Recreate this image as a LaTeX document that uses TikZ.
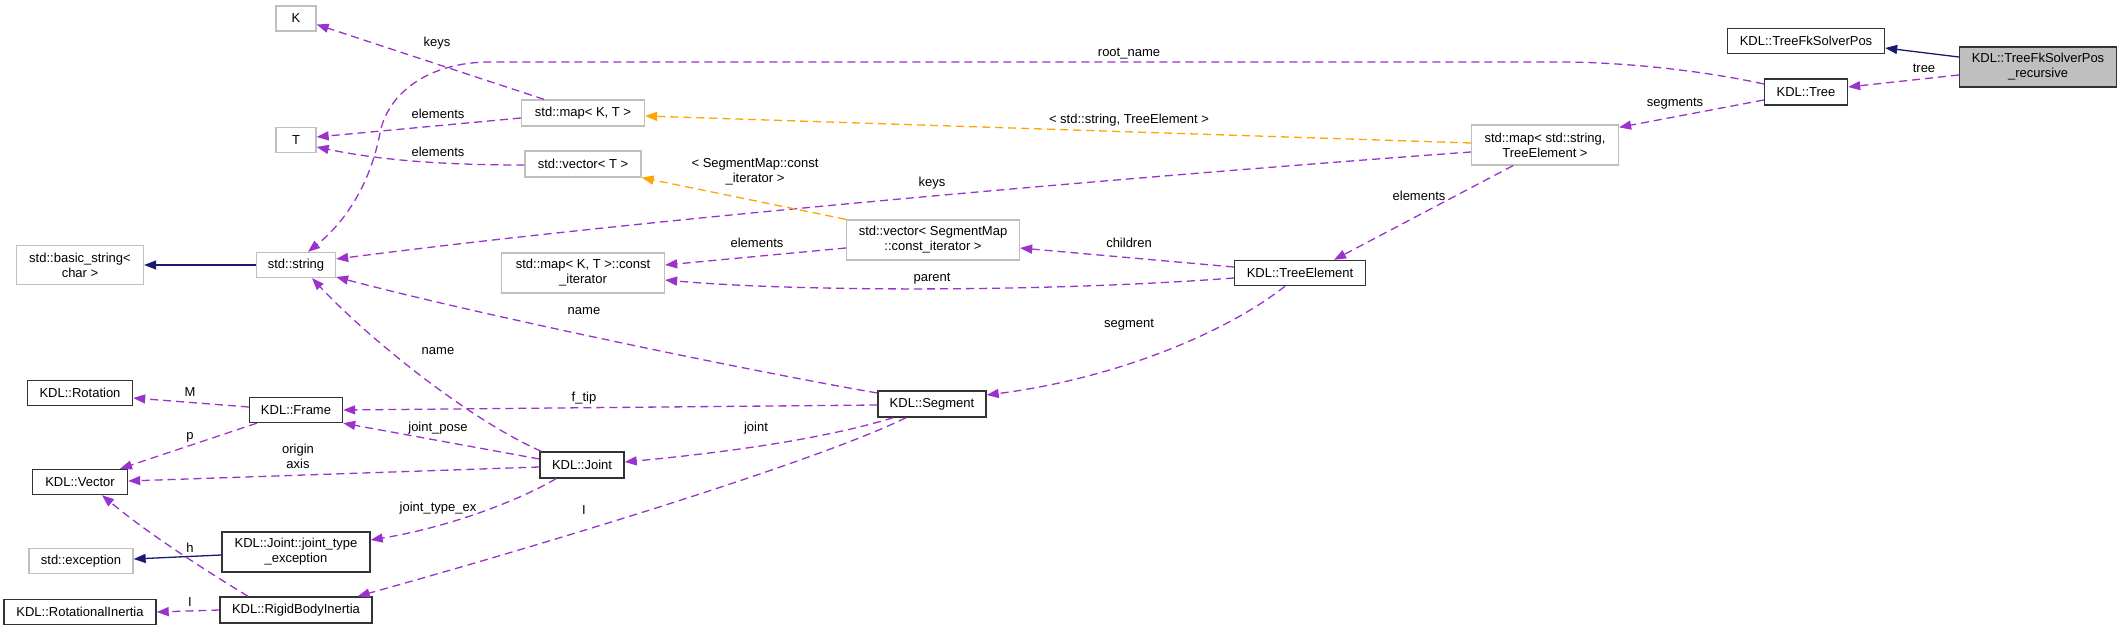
\documentclass[tikz,border=0pt]{standalone}
\usepackage{fontspec}
\setmainfont{Liberation Sans}
\usetikzlibrary{arrows.meta}
\definecolor{edgepurple}{HTML}{9A32CD}
\definecolor{edgeorange}{HTML}{FFA500}
\definecolor{edgenavy}{HTML}{191970}
\definecolor{boxgray}{HTML}{BFBFBF}
\definecolor{boxline}{HTML}{333333}
\begin{document}
\begin{tikzpicture}[x=1pt,y=-1pt,
  every node/.style={font=\fontsize{13}{15}\selectfont, inner sep=0pt, align=center},
  cls/.style={draw=boxline, line width=1.4pt, fill=white},
  ext/.style={draw=boxgray, line width=1.3pt, fill=white},
  hl/.style={draw=boxline, line width=1.4pt, fill=boxgray},
  use/.style={draw=edgepurple, line width=1.3pt, dash pattern=on 8pt off 5pt,
    -{Triangle[length=12pt,width=9pt,fill=edgepurple]}},
  tmpl/.style={draw=edgeorange, line width=1.3pt, dash pattern=on 8pt off 5pt,
    -{Triangle[length=12pt,width=9pt,fill=edgeorange]}},
  inh/.style={draw=edgenavy, line width=1.3pt,
    -{Triangle[length=12pt,width=9pt,fill=edgenavy]}},
  lbl/.style={fill=none}
]
\fill[white] (0,0) rectangle (2123,631);
\useasboundingbox (0,0) rectangle (2123,631);

% nodes
\node[ext, minimum width=40pt, minimum height=25pt] (K) at (296,18.5) {K};
\node[ext, minimum width=40pt, minimum height=25pt] (T) at (296,140) {T};
\node[ext, minimum width=123pt, minimum height=26pt] (mapKT) at (583,113) {std::map< K, T >};
\node[ext, minimum width=116pt, minimum height=26pt] (vecT) at (583,164) {std::vector< T >};
\node[ext, minimum width=127pt, minimum height=39pt] (bstr) at (80,265) {std::basic\_string<\\char >};
\node[ext, minimum width=79pt, minimum height=25pt] (str) at (296,265) {std::string};
\node[ext, minimum width=163pt, minimum height=40pt] (mapCI) at (583,273) {std::map< K, T >::const\\\_iterator};
\node[ext, minimum width=173pt, minimum height=40pt] (vecSM) at (933,240) {std::vector< SegmentMap\\::const\_iterator >};
\node[cls, minimum width=131pt, minimum height=25pt] (TE) at (1300,273) {KDL::TreeElement};
\node[ext, minimum width=147pt, minimum height=40pt] (mapSTE) at (1545,145) {std::map< std::string,\\TreeElement >};
\node[cls, minimum width=83pt, minimum height=26pt] (tree) at (1806,92) {KDL::Tree};
\node[cls, minimum width=157pt, minimum height=25pt] (fk) at (1806,41) {KDL::TreeFkSolverPos};
\node[hl, minimum width=157pt, minimum height=40pt] (rec) at (2038,67) {KDL::TreeFkSolverPos\\\_recursive};
\node[cls, minimum width=108pt, minimum height=26pt] (seg) at (932,404) {KDL::Segment};
\node[cls, minimum width=105pt, minimum height=25pt] (rot) at (80,393) {KDL::Rotation};
\node[cls, minimum width=93pt, minimum height=25pt] (frame) at (296,410) {KDL::Frame};
\node[cls, minimum width=95pt, minimum height=25pt] (vec) at (80,482) {KDL::Vector};
\node[cls, minimum width=84pt, minimum height=26pt] (joint) at (582,465) {KDL::Joint};
\node[ext, minimum width=104pt, minimum height=25pt] (exc) at (81,561) {std::exception};
\node[cls, minimum width=148pt, minimum height=40pt] (jte) at (296,552) {KDL::Joint::joint\_type\\\_exception};
\node[cls, minimum width=152pt, minimum height=25pt] (rotI) at (80,612) {KDL::RotationalInertia};
\node[cls, minimum width=152pt, minimum height=26pt] (rbi) at (296,610) {KDL::RigidBodyInertia};

% edges
\draw[inh] ([yshift=10pt]rec.west) -- ([yshift=-7pt]fk.east);
\draw[use] ([yshift=-8pt]rec.west) -- ([yshift=5pt]tree.east);
\draw[use] ([yshift=8pt]tree.west) .. controls (1700,70) and (1620,62) .. (1560,62) -- (490,62)
  .. controls (430,62) and (388,92) .. (380,133) .. controls (370,185) and (345,222) .. ([xshift=12pt]str.north);
\draw[use] ([yshift=-8pt]tree.west) -- ([yshift=-3pt]mapSTE.north east);
\draw[tmpl] ([yshift=2pt]mapSTE.west) -- ([yshift=-3pt]mapKT.east);
\draw[use] ([yshift=-7pt]mapSTE.west) .. controls (1250,168) and (700,212) .. ([yshift=6pt]str.east);
\draw[use] ([xshift=-32pt]mapSTE.south) -- ([xshift=34pt]TE.north);
\draw[use] ([xshift=-39pt]mapKT.north) -- ([yshift=-6pt]K.east);
\draw[use] ([yshift=-5pt]mapKT.west) -- ([yshift=3pt]T.east);
\draw[use] ([yshift=-1pt]vecT.west) .. controls (440,165) and (380,160) .. ([yshift=-7pt]T.east);
\draw[tmpl] (vecSM.north west) -- (vecT.south east);
\draw[use] ([yshift=-8pt]vecSM.west) -- ([yshift=8pt]mapCI.east);
\draw[use] ([yshift=6pt]TE.west) -- ([yshift=-8pt]vecSM.east);
\draw[use] ([yshift=-5pt]TE.west) .. controls (1050,292) and (800,292) .. ([yshift=-7pt]mapCI.east);
\draw[use] ([xshift=-15pt]TE.south) .. controls (1230,330) and (1120,378) .. ([yshift=9pt]seg.east);
\draw[use] ([yshift=11pt]seg.west) .. controls (750,371) and (480,315) .. ([yshift=-12pt]str.east);
\draw[use] ([yshift=-1pt]seg.west) -- (frame.east);
\draw[use] ([xshift=16pt]seg.south west) .. controls (820,440) and (720,453) .. ([yshift=3pt]joint.east);
\draw[use] ([xshift=-26pt]seg.south) .. controls (820,460) and (560,540) .. ([xshift=-15pt]rbi.north east);
\draw[use] ([xshift=2pt]joint.north west) .. controls (470,420) and (370,340) .. ([xshift=16pt]str.south);
\draw[use] ([yshift=6pt]joint.west) -- (frame.south east);
\draw[use] ([yshift=-2pt]joint.west) -- ([yshift=1pt]vec.east);
\draw[use] ([xshift=-26pt]joint.south) .. controls (520,500) and (450,527) .. ([yshift=12pt]jte.east);
\draw[use] ([yshift=3pt]frame.west) -- ([yshift=-5pt]rot.east);
\draw[use] ([xshift=8pt]frame.south west) -- ([xshift=40pt]vec.north);
\draw[inh] (str.west) -- (bstr.east);
\draw[inh] ([yshift=-3pt]jte.west) -- ([yshift=2pt]exc.east);
\draw[use] ([xshift=-48pt]rbi.north) .. controls (205,570) and (150,535) .. ([xshift=22pt]vec.south);
\draw[use] (rbi.west) -- (rotI.east);

% labels
\node[lbl] (ltree) at (1924,68) {tree};
\node[lbl] (lroot) at (1129,54) {root\_name};
\node[lbl] (lsegs) at (1675,104) {segments};
\node[lbl] (lste) at (1129,120) {< std::string, TreeElement >};
\node[lbl] (lkeys2) at (932,183) {keys};
\node[lbl] (lelem3) at (1419,196) {elements};
\node[lbl] (lkeys1) at (437,43) {keys};
\node[lbl] (lelem1) at (438,114) {elements};
\node[lbl] (lelem2) at (438,152) {elements};
\node[lbl] (ltmpl2) at (755,172) {< SegmentMap::const\\\_iterator >};
\node[lbl] (lelem4) at (757,243) {elements};
\node[lbl] (lchild) at (1129,243) {children};
\node[lbl] (lparent) at (932,279) {parent};
\node[lbl] (lsegment) at (1129,325) {segment};
\node[lbl] (lname1) at (584,311) {name};
\node[lbl] (lftip) at (584,398) {f\_tip};
\node[lbl] (ljoint) at (756,428) {joint};
\node[lbl] (lIa) at (584,510) {I};
\node[lbl] (lname2) at (438,351) {name};
\node[lbl] (ljp) at (438,428) {joint\_pose};
\node[lbl] (loa) at (298,456) {origin\\axis};
\node[lbl] (ljte) at (438,508) {joint\_type\_ex};
\node[lbl] (lM) at (190,392) {M};
\node[lbl] (lp) at (190,437) {p};
\node[lbl] (lh) at (190,548) {h};
\node[lbl] (lIb) at (190,602) {I};
\end{tikzpicture}
\end{document}
